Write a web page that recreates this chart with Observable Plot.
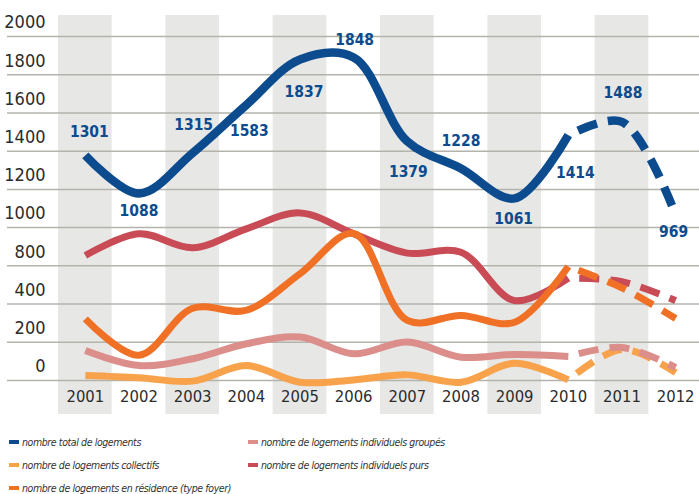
<!DOCTYPE html>
<html>
<head>
<meta charset="utf-8">
<script src="https://cdn.jsdelivr.net/npm/d3@7"></script>
<script src="https://cdn.jsdelivr.net/npm/@observablehq/plot@0.6"></script>
<style>
  html, body { margin: 0; padding: 0; background: #fff; }
  body { position: relative; width: 699px; height: 494px; overflow: hidden; font-family: "Liberation Sans Narrow", "DejaVu Sans Condensed", "Liberation Sans", sans-serif; }
  #chart { position: absolute; left: 0; top: 0; width: 699px; height: 425px; }
  #chart svg { display: block; }
  #legend { position: absolute; left: 0; top: 0; width: 699px; height: 494px; font-style: italic; font-size: 10.5px; letter-spacing: -0.4px; color: #333; pointer-events: none; }
  .item { position: absolute; display: flex; align-items: center; white-space: nowrap; height: 18px; }
  .sw { width: 10px; height: 4px; margin-right: 3px; }
</style>
</head>
<body>
<div id="chart"></div>
<div id="legend"></div>
<script>
// ---- data ----
const years = [2001, 2002, 2003, 2004, 2005, 2006, 2007, 2008, 2009, 2010, 2011, 2012];
const total       = [1301, 1088, 1315, 1583, 1837, 1848, 1379, 1228, 1061, 1414, 1488, 969];
const collectifs  = [71, 59, 40, 127, 34, 47, 75, 34, 140, 47, 217, 88];
const residence   = [388, 185, 447, 436, 640, 865, 379, 407, 369, 680, 561, 390];
const groupes     = [211, 127, 165, 249, 286, 193, 258, 174, 189, 178, 228, 116];
const purs        = [742, 863, 785, 891, 980, 863, 755, 760, 490, 615, 596, 490];
const yTickLabels = ["0", "200", "400", "800", "1000", "1200", "1400", "1600", "1800", "2000"];
const seriesNames = [
  "nombre total de logements",
  "nombre de logements collectifs",
  "nombre de logements en résidence (type foyer)",
  "nombre de logements individuels groupés",
  "nombre de logements individuels purs"
];
const lastActualYear = 2010;

// ---- layout / style ----
const colors = {
  total: "#0b4b8e", collectifs: "#f8a24b", residence: "#f07126",
  groupes: "#dc8e8a", purs: "#c84b56", band: "#e7e7e5", grid: "#b3b3ab", text: "#2b2b2b"
};
const W = 699, H = 425;
const yRange = [387.8, 29.8];               // pixel range for domain [0, 2000]
const gridBottomPx = 380, gridStepPx = 38.22;
const yInv = d3.scaleLinear().domain([0, 2000]).range(yRange);
const gridVals = yTickLabels.map((_, i) => yInv.invert(gridBottomPx - i * gridStepPx));
const gridLabel = new Map(gridVals.map((v, i) => [v, yTickLabels[i]]));
// label offsets (dx, dy in px) for the total-series value labels
const labelDx = [4, 0, 1, 3, 4, 1, 1, 0, -1, 7, 1, -2];
const labelDy = [-23, 17, -28, 26, 33, -17, 31, -27, 21, 38, -29, 17];

const series = [
  {key: "collectifs", values: collectifs, w: 7},
  {key: "groupes", values: groupes, w: 7},
  {key: "purs", values: purs, w: 7},
  {key: "residence", values: residence, w: 7},
  {key: "total", values: total, w: 8.5}
];

const idx = years.map((_, i) => i);
const solidIdx = idx.filter(i => years[i] <= lastActualYear);
const dashIdx = idx.filter(i => years[i] >= lastActualYear);

const lineMarks = [];
for (const s of series) {
  lineMarks.push(Plot.line(solidIdx, {
    x: i => years[i], y: i => s.values[i], stroke: colors[s.key],
    strokeWidth: s.w, curve: "catmull-rom", strokeLinecap: "butt", strokeLinejoin: "round"
  }));
  lineMarks.push(Plot.line(dashIdx, {
    x: i => years[i], y: i => s.values[i], stroke: colors[s.key],
    strokeWidth: s.w, curve: "catmull-rom", strokeLinecap: "butt",
    strokeDasharray: "0,11,20,0"
  }));
}

const labelMarks = idx.map(i => Plot.text([i], {
  x: j => years[j], y: j => total[j], text: j => String(total[j]),
  dx: labelDx[i], dy: labelDy[i], fill: colors.total, fontWeight: "bold", fontSize: 15.5
}));

const chart = Plot.plot({
  width: W, height: H,
  marginTop: 15, marginBottom: 11, marginLeft: 7, marginRight: 0,
  style: {fontFamily: '"Liberation Sans Narrow", "DejaVu Sans Condensed", "Liberation Sans", sans-serif', background: "#fff", overflow: "visible"},
  x: {domain: [2000.5, 2012.5], range: [58, 702], axis: null},
  y: {domain: [0, 2000], range: yRange, axis: null},
  marks: [
    Plot.rect(years.filter(y => y % 2 === 1), {x1: d => d - 0.5, x2: d => d + 0.5, fill: colors.band}),
    Plot.gridY(gridVals, {stroke: colors.grid, strokeOpacity: 1, strokeWidth: 1.5}),
    Plot.axisY(gridVals, {anchor: "left", tickSize: 0, tickPadding: 0, dx: 38, dy: -14,
      tickFormat: d => gridLabel.get(d), fontSize: 18, fill: colors.text, label: null}),
    Plot.text(years, {x: d => d, text: d => String(d), frameAnchor: "bottom", dy: -13,
      fontSize: 16.5, fill: colors.text}),
    ...lineMarks,
    ...labelMarks
  ]
});
document.getElementById("chart").appendChild(chart);

// ---- legend ----
const legendItems = [
  {name: seriesNames[0], key: "total", x: 9, row: 0},
  {name: seriesNames[3], key: "groupes", x: 248, row: 0},
  {name: seriesNames[1], key: "collectifs", x: 9, row: 1},
  {name: seriesNames[4], key: "purs", x: 248, row: 1},
  {name: seriesNames[2], key: "residence", x: 9, row: 2}
];
const legend = document.getElementById("legend");
for (const it of legendItems) {
  const d = document.createElement("div");
  d.className = "item";
  d.style.left = it.x + "px";
  d.style.top = (433 + it.row * 23) + "px";
  const sw = document.createElement("span");
  sw.className = "sw";
  sw.style.background = colors[it.key];
  const t = document.createElement("span");
  t.textContent = it.name;
  d.appendChild(sw); d.appendChild(t);
  legend.appendChild(d);
}
</script>
</body>
</html>
